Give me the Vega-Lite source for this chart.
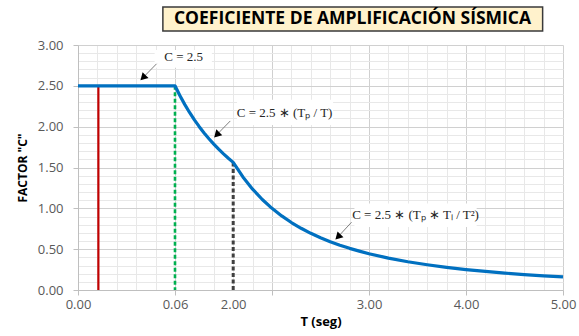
{
  "$schema": "https://vega.github.io/schema/vega-lite/v6.json",
  "width": 485,
  "height": 245,
  "autosize": {"type": "none"},
  "padding": {"left": 78, "top": 45, "right": 16, "bottom": 46},
  "background": "white",
  "config": {"view": {"stroke": null}},
  "datasets": {
    "curve": [
      {"T": 0, "C": 2.5}, {"T": 1.0, "C": 2.5}, {"T": 1.05, "C": 2.381}, {"T": 1.1, "C": 2.273},
      {"T": 1.15, "C": 2.174}, {"T": 1.2, "C": 2.083}, {"T": 1.25, "C": 2.0}, {"T": 1.3, "C": 1.923},
      {"T": 1.35, "C": 1.852}, {"T": 1.4, "C": 1.786}, {"T": 1.45, "C": 1.724}, {"T": 1.5, "C": 1.667},
      {"T": 1.55, "C": 1.613}, {"T": 1.6, "C": 1.5625}, {"T": 1.7, "C": 1.384}, {"T": 1.8, "C": 1.235},
      {"T": 1.9, "C": 1.108}, {"T": 2.0, "C": 1.0}, {"T": 2.1, "C": 0.907}, {"T": 2.2, "C": 0.826},
      {"T": 2.3, "C": 0.756}, {"T": 2.4, "C": 0.694}, {"T": 2.5, "C": 0.64}, {"T": 2.6, "C": 0.592},
      {"T": 2.7, "C": 0.549}, {"T": 2.8, "C": 0.51}, {"T": 2.9, "C": 0.476}, {"T": 3.0, "C": 0.444},
      {"T": 3.2, "C": 0.391}, {"T": 3.4, "C": 0.346}, {"T": 3.6, "C": 0.309}, {"T": 3.8, "C": 0.277},
      {"T": 4.0, "C": 0.25}, {"T": 4.2, "C": 0.227}, {"T": 4.4, "C": 0.207}, {"T": 4.6, "C": 0.189},
      {"T": 4.8, "C": 0.174}, {"T": 5.0, "C": 0.16}
    ],
    "verticals": [
      {"name": "T", "T": 0.21, "C": 2.5},
      {"name": "TP", "T": 1.0, "C": 2.5},
      {"name": "TL", "T": 1.6, "C": 1.5625}
    ],
    "boxes": [
      {"T1": 0.79, "T2": 1.38, "C1": 2.94, "C2": 2.72},
      {"T1": 1.64, "T2": 2.63, "C1": 2.33, "C2": 2.02},
      {"T1": 2.85, "T2": 4.11, "C1": 1.06, "C2": 0.77}
    ],
    "notes": [
      {"T": 1.09, "C": 2.85, "label": "C = 2.5"},
      {"T": 2.13, "C": 2.17, "label": "C = 2.5 ∗ (Tₚ / T)"},
      {"T": 3.48, "C": 0.92, "label": "C = 2.5 ∗ (Tₚ ∗ Tₗ / T²)"}
    ],
    "arrowLines": [
      {"id": 1, "T": 0.81, "C": 2.77}, {"id": 1, "T": 0.67, "C": 2.6},
      {"id": 2, "T": 1.57, "C": 2.07}, {"id": 2, "T": 1.43, "C": 1.9},
      {"id": 3, "T": 2.82, "C": 0.83}, {"id": 3, "T": 2.68, "C": 0.65}
    ],
    "arrowHeads": [
      {"T": 0.67, "C": 2.6}, {"T": 1.43, "C": 1.9}, {"T": 2.68, "C": 0.65}
    ],
    "titleBox": [
      {"T1": 0.875, "T2": 4.79, "C1": 3.465, "C2": 3.17, "T": 2.83, "C": 3.32, "label": "COEFICIENTE DE AMPLIFICACIÓN SÍSMICA"}
    ]
  },
  "encoding": {
    "x": {
      "field": "T", "type": "quantitative",
      "scale": {"domain": [0, 5], "nice": false, "zero": false},
      "axis": {
        "title": "T (seg)",
        "titleFont": "Open Sans", "titleFontSize": 13, "titleFontWeight": "bold", "titleColor": "#000000", "titlePadding": 4,
        "values": [0, 0.2, 0.4, 0.6, 0.8, 1, 1.2, 1.4, 1.6, 1.8, 2, 2.2, 2.4, 2.6, 2.8, 3, 3.2, 3.4, 3.6, 3.8, 4, 4.2, 4.4, 4.6, 4.8, 5],
        "labelExpr": "datum.value === 1 ? '0.06' : (abs(datum.value - 1.6) < 0.001 ? '2.00' : ((datum.value % 1 === 0 && datum.value !== 2) ? format(datum.value, '.2f') : ''))",
        "labelOverlap": false, "labelFlush": false,
        "labelFont": "Open Sans", "labelFontSize": 13, "labelColor": "#595959", "labelPadding": 3,
        "grid": true,
        "gridColor": {"condition": {"test": "datum.value % 1 === 0", "value": "#d0d0d0"}, "value": "#e8e8e8"},
        "gridWidth": 1,
        "tickColor": {"condition": {"test": "datum.value % 1 === 0", "value": "#bfbfbf"}, "value": "transparent"},
        "tickSize": 5,
        "domainColor": "#bfbfbf"
      }
    },
    "y": {
      "field": "C", "type": "quantitative",
      "scale": {"domain": [0, 3], "nice": false},
      "axis": {
        "title": "FACTOR \"C\"",
        "titleFont": "Open Sans", "titleFontSize": 12, "titleFontWeight": "bold", "titleColor": "#000000", "titlePadding": 8,
        "values": [0, 0.1, 0.2, 0.3, 0.4, 0.5, 0.6, 0.7, 0.8, 0.9, 1, 1.1, 1.2, 1.3, 1.4, 1.5, 1.6, 1.7, 1.8, 1.9, 2, 2.1, 2.2, 2.3, 2.4, 2.5, 2.6, 2.7, 2.8, 2.9, 3],
        "labelExpr": "abs(datum.value * 2 - round(datum.value * 2)) < 0.000001 ? format(datum.value, '.2f') : ''",
        "labelOverlap": false, "labelFlush": false,
        "labelFont": "Open Sans", "labelFontSize": 13, "labelColor": "#595959", "labelPadding": 10,
        "grid": true,
        "gridColor": {"condition": {"test": "abs(datum.value * 2 - round(datum.value * 2)) < 0.000001", "value": "#d0d0d0"}, "value": "#e8e8e8"},
        "tickColor": {"condition": {"test": "abs(datum.value * 2 - round(datum.value * 2)) < 0.000001", "value": "#bfbfbf"}, "value": "transparent"},
        "tickSize": 5,
        "domainColor": "#bfbfbf"
      }
    }
  },
  "layer": [
    {
      "data": {"name": "verticals"},
      "mark": {"type": "rule"},
      "encoding": {
        "y2": {"datum": 0},
        "color": {"field": "name", "type": "nominal", "scale": {"domain": ["T", "TP", "TL"], "range": ["#C00000", "#00B050", "#404040"]}, "legend": null},
        "strokeDash": {"field": "name", "type": "nominal", "scale": {"domain": ["T", "TP", "TL"], "range": [[1, 0], [4, 2.5], [4, 2.5]]}, "legend": null},
        "strokeWidth": {"field": "name", "type": "nominal", "scale": {"domain": ["T", "TP", "TL"], "range": [2.2, 3, 2.8]}, "legend": null}
      }
    },
    {
      "data": {"name": "curve"},
      "mark": {"type": "line", "color": "#0070C0", "strokeWidth": 3.2, "strokeJoin": "round"},
      "encoding": {}
    },
    {
      "data": {"name": "boxes"},
      "mark": {"type": "rect", "fill": "white"},
      "encoding": {
        "x": {"field": "T1", "type": "quantitative"},
        "x2": {"field": "T2"},
        "y": {"field": "C1", "type": "quantitative"},
        "y2": {"field": "C2"}
      }
    },
    {
      "data": {"name": "notes"},
      "mark": {"type": "text", "font": "Liberation Serif", "fontSize": 13, "color": "#262626"},
      "encoding": {"text": {"field": "label"}}
    },
    {
      "data": {"name": "arrowLines"},
      "mark": {"type": "line", "color": "#7f7f7f", "strokeWidth": 1},
      "encoding": {"detail": {"field": "id"}}
    },
    {
      "data": {"name": "arrowHeads"},
      "mark": {"type": "point", "shape": "triangle-up", "filled": true, "color": "#000000", "size": 70, "angle": 225, "opacity": 1},
      "encoding": {}
    },
    {
      "data": {"name": "titleBox"},
      "mark": {"type": "rect", "fill": "#FFF2CC", "stroke": "#3a3a3a", "strokeWidth": 1.5},
      "encoding": {
        "x": {"field": "T1", "type": "quantitative"},
        "x2": {"field": "T2"},
        "y": {"field": "C1", "type": "quantitative"},
        "y2": {"field": "C2"}
      }
    },
    {
      "data": {"name": "titleBox"},
      "mark": {"type": "text", "font": "Open Sans", "fontSize": 17.5, "fontWeight": "bold", "color": "#000000"},
      "encoding": {"text": {"field": "label"}}
    }
  ]
}
